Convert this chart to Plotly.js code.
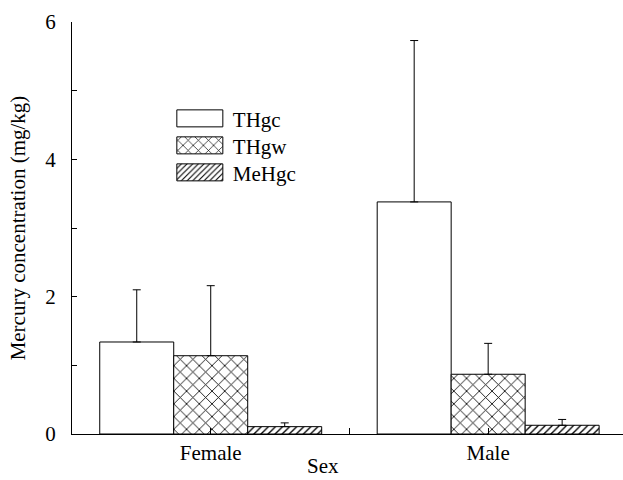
<!DOCTYPE html>
<html>
<head>
<meta charset="utf-8">
<script src="https://cdn.plot.ly/plotly-3.0.1.min.js"></script>
<style>html,body{margin:0;padding:0;background:#fff;}#chart{width:623px;height:480px;}</style>
</head>
<body>
<div id="chart"></div>
<script>
// ---- data ----
const categories = ['Female', 'Male'];
const seriesNames = ['THgc', 'THgw', 'MeHgc'];
const thgc = [1.34, 3.38];
const thgcErr = [0.76, 2.35];
const thgw = [1.14, 0.87];
const thgwErr = [1.02, 0.45];
const mehgc = [0.107, 0.127];
const mehgcErr = [0.055, 0.085];
const yTicks = [0, 2, 4, 6];

const xIdx = categories.map((c, i) => i);
const zeros = categories.map(() => 0);
const FONT = "'Liberation Serif', 'Times New Roman', 'DejaVu Serif', serif";

function errBar(arr) {
  return {type: 'data', array: arr, arrayminus: zeros, symmetric: false,
          visible: true, color: '#000', thickness: 1, width: 4};
}

const traces = [
  {type: 'bar', name: seriesNames[0], x: xIdx, y: thgc, error_y: errBar(thgcErr),
   marker: {color: '#fff', line: {color: '#000', width: 1}}},
  {type: 'bar', name: seriesNames[1], x: xIdx, y: thgw, error_y: errBar(thgwErr),
   marker: {color: '#fff', line: {color: '#000', width: 1},
            pattern: {shape: 'x', size: 9, solidity: 0.18, fgcolor: '#000', bgcolor: '#fff'}}},
  {type: 'bar', name: seriesNames[2], x: xIdx, y: mehgc, error_y: errBar(mehgcErr),
   marker: {color: '#fff', line: {color: '#000', width: 1},
            pattern: {shape: '/', size: 5, solidity: 0.28, fgcolor: '#000', bgcolor: '#fff'}}}
];

const layout = {
  width: 623, height: 480,
  margin: {l: 72, r: 0, t: 22, b: 46},
  paper_bgcolor: '#fff', plot_bgcolor: '#fff',
  font: {family: FONT, size: 21, color: '#000'},
  barmode: 'group', bargap: 0.2, bargroupgap: 0,
  showlegend: true,
  legend: {x: 0.183, y: 0.815, xanchor: 'left', yanchor: 'top',
           bgcolor: 'rgba(0,0,0,0)', font: {family: FONT, size: 21},
           itemwidth: 50, tracegroupgap: 0},
  xaxis: {range: [-0.5, 1.486], showgrid: false, zeroline: false,
          showline: true, linecolor: '#000', linewidth: 1,
          tickmode: 'array', tickvals: xIdx, ticktext: categories,
          ticks: 'inside', ticklen: 6, tickcolor: '#000',
          minor: {tickvals: [0.5], ticks: 'inside', ticklen: 6, tickcolor: '#000'},
          tickfont: {family: FONT, size: 21}, fixedrange: true},
  yaxis: {range: [0, 6], showgrid: false, zeroline: false,
          showline: true, linecolor: '#000', linewidth: 1,
          tickmode: 'array', tickvals: yTicks,
          ticks: 'inside', ticklen: 5, tickcolor: '#000',
          minor: {dtick: 1, ticks: 'inside', ticklen: 5, tickcolor: '#000'},
          ticklabelstandoff: 11,
          tickfont: {family: FONT, size: 21},
          title: {text: 'Mercury concentration (mg/kg)', font: {family: FONT, size: 21}, standoff: 13},
          fixedrange: true},
  annotations: [
    {text: 'Sex', xref: 'paper', yref: 'paper', x: (323 - 72) / 551, y: -0.0777,
     xanchor: 'center', yanchor: 'middle', showarrow: false, borderpad: 0,
     font: {family: FONT, size: 21}}
  ]
};

function tidyLegend(gd) {
  const groups = gd.querySelectorAll('.legend .traces');
  let x0 = null, y0 = null;
  groups.forEach(function (g, i) {
    const m = /translate\(\s*([-\d.]+)[ ,]+([-\d.]+)/.exec(g.getAttribute('transform') || '');
    if (m && x0 === null) { x0 = parseFloat(m[1]); y0 = parseFloat(m[2]); }
    if (x0 !== null) g.setAttribute('transform', 'translate(' + x0 + ',' + (y0 + i * 27) + ')');
    const txt = g.querySelector('text.legendtext');
    const path = g.querySelector('.legendpoints path');
    if (!txt || !path) return;
    const tx = parseFloat(txt.getAttribute('x')) || 40;
    const right = tx - 10, left = right - 46, h = 8.5;
    path.setAttribute('transform', '');
    path.setAttribute('d', 'M' + right + ',' + h + 'H' + left + 'V' + (-h) + 'H' + right + 'Z');
  });
}

Plotly.newPlot('chart', traces, layout, {displayModeBar: false, staticPlot: true})
  .then(function (gd) { tidyLegend(gd); });
</script>
</body>
</html>
